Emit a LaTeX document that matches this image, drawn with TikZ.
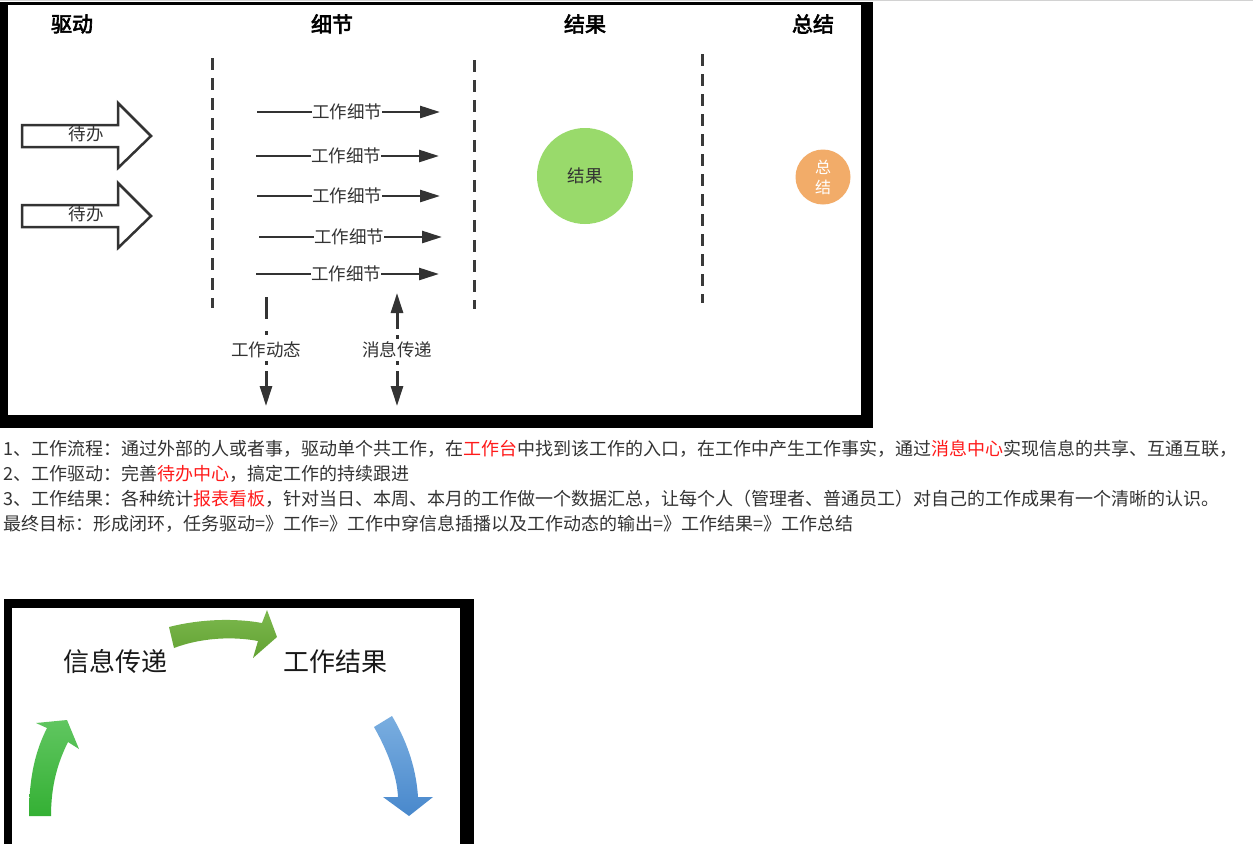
\documentclass[tikz,border=0pt]{standalone}
\usepackage{fontspec}
\setmainfont{Noto Sans CJK SC}
\newfontfamily\cjkbold[FakeBold=3]{Noto Sans CJK SC}
\usetikzlibrary{arrows.meta}
\definecolor{ink}{HTML}{333333}
\definecolor{dashink}{HTML}{3A3A3A}
\definecolor{resgreen}{HTML}{99DA6B}
\definecolor{sumorange}{HTML}{F2AC69}
\definecolor{hlred}{HTML}{FF1A1A}
\tikzset{
  heading/.style={font=\cjkbold\fontsize{21}{24}\selectfont, text=black, inner sep=0pt},
  lbl/.style={font=\fontsize{17.5}{20}\selectfont, text=ink, inner sep=0pt},
  bodytext/.style={font=\fontsize{18}{22}\selectfont, text=ink, inner sep=0pt, anchor=west},
  bigtext/.style={font=\fontsize{26}{30}\selectfont, text=black!90, inner sep=0pt},
  sepline/.style={draw=dashink, line width=3pt, dash pattern=on 12pt off 8pt},
  conn/.style={draw=ink, line width=2.6pt},
  vconn/.style={draw=ink, line width=3pt},
  headtip/.style={-{Triangle[length=20pt,width=12pt]}},
  blockarrow/.style={draw=ink, fill=white, line width=2.5pt, line join=miter},
}
\begin{document}
\begin{tikzpicture}[x=1pt,y=-1pt]
\useasboundingbox (0,0) rectangle (1253,844);
\fill[white] (0,0) rectangle (1253,844);
\draw[gray!35, line width=1pt] (0,0.5) -- (1253,0.5);

% frames
\fill[black] (0,2) rectangle (873,428);
\fill[white] (8,5) rectangle (861,415);
\fill[black] (4,599) rectangle (474,844);
\fill[white] (12,608) rectangle (460,844);

% headings
\node[heading] (hDrive) at (72,24) {驱动};
\node[heading] (hDetail) at (332,24) {细节};
\node[heading] (hResult) at (585,24) {结果};
\node[heading] (hSum) at (813,24) {总结};

% separators
\draw[sepline] (212,58) -- (212,308);
\draw[sepline] (474,60) -- (474,309);
\draw[sepline] (702,54) -- (702,303);

% block arrows
\draw[blockarrow] (22,125) -- (118,125) -- (118,103) -- (151,136) -- (118,168) -- (118,147) -- (22,147) -- cycle;
\node[lbl] (todo1) at (86,134) {待办};
\draw[blockarrow] (22,205) -- (118,205) -- (118,183) -- (151,216) -- (118,248) -- (118,227) -- (22,227) -- cycle;
\node[lbl] (todo2) at (86,214) {待办};

% detail arrows
\foreach \y/\xs/\xe/\xl [count=\i] in {112/257/440/347, 156/256/439/346, 196/257/440/347, 237/259/442/349, 274/256/439/346} {
  \coordinate (ds\i) at (\xs,\y);
  \coordinate (de\i) at (\xe,\y);
  \node[lbl] (dl\i) at (\xl,\y) {工作细节};
  \draw[conn] (ds\i) -- (dl\i);
  \draw[conn,headtip] (dl\i) -- (de\i);
}

% vertical dash-dot arrows
\node[lbl] (wd) at (266,350) {工作动态};
\coordinate (wdTop) at (266,297);
\coordinate (wdBot) at (266,406);
\draw[vconn, dash pattern=on 22pt off 12pt on 4pt off 30pt] (wdTop) -- (wd);
\draw[vconn, headtip, dash pattern=on 0pt off 3pt on 4pt off 6pt on 60pt] (wd) -- (wdBot);

\node[lbl] (msg) at (397,350) {消息传递};
\coordinate (msgTop) at (397,293);
\coordinate (msgBot) at (397,406);
\draw[vconn, headtip, dash pattern=on 0pt off 3pt on 4pt off 6pt on 60pt] (msg) -- (msgTop);
\draw[vconn, headtip, dash pattern=on 0pt off 3pt on 4pt off 6pt on 60pt] (msg) -- (msgBot);

% circles
\node[circle, fill=resgreen, minimum size=96pt, inner sep=0pt, lbl] (res) at (585,176) {结果};
\node[circle, fill=sumorange, minimum size=55pt, inner sep=0pt, text=white, align=center, font=\fontsize{16}{20}\selectfont] (sum) at (823,177) {总\\结};

% body text
\node[bodytext] (t1) at (3,449) {1、工作流程：通过外部的人或者事，驱动单个共工作，在\textcolor{hlred}{工作台}中找到该工作的入口，在工作中产生工作事实，通过\textcolor{hlred}{消息中心}实现信息的共享、互通互联，};
\node[bodytext] (t2) at (3,474) {2、工作驱动：完善\textcolor{hlred}{待办中心}，搞定工作的持续跟进};
\node[bodytext] (t3) at (3,499) {3、工作结果：各种统计\textcolor{hlred}{报表看板}，针对当日、本周、本月的工作做一个数据汇总，让每个人（管理者、普通员工）对自己的工作成果有一个清晰的认识。};
\node[bodytext] (t4) at (3,524) {最终目标：形成闭环，任务驱动=》工作=》工作中穿信息插播以及工作动态的输出=》工作结果=》工作总结};

% second picture
\node[bigtext] (info) at (115,662) {信息传递};
\node[bigtext] (wres) at (335,662) {工作结果};
\shade[top color={rgb,255:red,124;green,184;blue,78}, bottom color={rgb,255:red,98;green,162;blue,50}]
  (169,627) .. controls (200,619) and (235,618) .. (262,623) -- (267,610) -- (277,637) -- (253,658) -- (258,641) .. controls (232,636) and (200,638) .. (174,648) -- cycle;
\shade[top color={rgb,255:red,96;green,198;blue,96}, bottom color={rgb,255:red,52;green,176;blue,52}]
  (29,816) .. controls (29,775) and (36,750) .. (47,728) -- (36,723) -- (67,720) -- (79,749) -- (68,742) .. controls (58,762) and (51,785) .. (51,816) -- cycle;
\shade[top color={rgb,255:red,122;green,174;blue,224}, bottom color={rgb,255:red,72;green,136;blue,204}]
  (374,727) .. controls (387,750) and (397,775) .. (398,797) -- (383,797) -- (409,816) -- (433,797) -- (418,797) .. controls (416,765) and (405,738) .. (392,716) -- cycle;
\end{tikzpicture}
\end{document}
